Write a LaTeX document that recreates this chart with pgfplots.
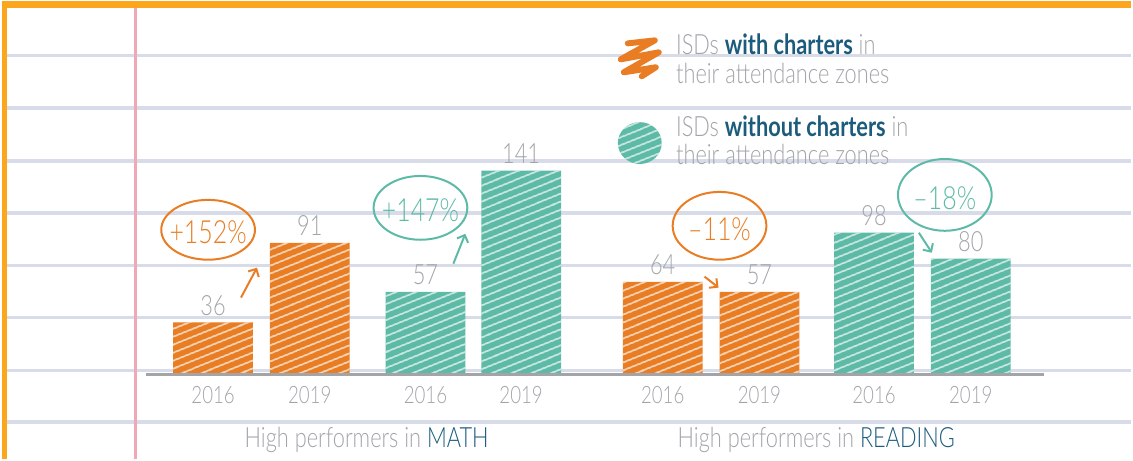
\documentclass[border=0pt]{standalone}
\usepackage{pgfplots}
\pgfplotsset{compat=1.18}
\usepackage{fontspec}
\setmainfont{Lato}[FakeStretch=0.78, UprightFont=* Light, BoldFont=* Bold]
\usetikzlibrary{patterns.meta,arrows.meta}

\definecolor{barorange}{HTML}{E87D24}
\definecolor{barteal}{HTML}{5DBAA6}
\definecolor{txtgray}{HTML}{A2A4A8}
\definecolor{txtblue}{HTML}{1B5B7C}
\definecolor{ruled}{HTML}{D8DCE9}
\definecolor{margin}{HTML}{F0A8B4}
\definecolor{frame}{HTML}{FBA61C}
\newcommand\fs[1]{\fontsize{#1}{#1}\selectfont}

\begin{document}
\begin{tikzpicture}
% notebook paper, in pixel units (origin top left)
\begin{scope}[x=0.5pt,y=-0.5pt,shift={(0pt,229.5pt)}]
  \path (0,0) rectangle (1133,459);
  \foreach \y in {54,107,160,212,265,317,370,422}
    \draw[ruled,line width=1.75pt] (0,\y) -- (1133,\y);
  \draw[margin,line width=1.5pt] (134.5,0) -- (134.5,459);
  \fill[frame] (0,0) rectangle (1133,7);
  \fill[frame] (0,0) rectangle (5,459);
\end{scope}

\begin{axis}[
    at={(0,0)}, anchor=south west,
    scale only axis, width=566.5pt, height=229.5pt,
    xmin=0, xmax=1133, ymin=-58.6, ymax=257.9,
    clip=false,
    axis line style={draw=none}, tick style={draw=none},
    ytick=\empty,
    xtick={212,309,425,521,663,760,875,972},
    xticklabels={2016,2019,2016,2019,2016,2019,2016,2019},
    xticklabel style={anchor=center, yshift=32pt, text=txtgray, font=\fs{12}},
    /pgf/number format/assume math mode=true,
    nodes near coords,
    every node near coord/.append style={text=txtgray, font=\fs{14}},
]
% ISDs with charters
\addplot[ybar, bar width=80, bar shift=0pt, fill=barorange, draw=none,
    postaction={pattern={Lines[angle=22,distance=4pt,line width=0.6pt]}, pattern color=white}]
    coordinates {(212,36) (309,91) (663,64) (760,57)};
% ISDs without charters
\addplot[ybar, bar width=80, bar shift=0pt, fill=barteal, draw=none,
    postaction={pattern={Lines[angle=22,distance=4pt,line width=0.6pt]}, pattern color=white}]
    coordinates {(425,57) (521,141) (875,98) (972,80)};
\end{axis}

\begin{scope}[x=0.5pt,y=-0.5pt,shift={(0pt,229.5pt)}]
  % base line
  \draw[txtgray,line width=1.4pt] (145,374) -- (1045,374);

  % change annotations
  \draw[barorange,line width=1pt] (207,229) ellipse [x radius=47, y radius=30];
  \node[text=barorange,font=\fs{16}] at (207,231) {+152\%};
  \draw[barorange,line width=1pt,-{Straight Barb[length=3pt]}] (240,297) -- (256,267);

  \draw[barteal,line width=1pt] (420,207) ellipse [x radius=47, y radius=32];
  \node[text=barteal,font=\fs{16}] at (420,209) {+147\%};
  \draw[barteal,line width=1pt,-{Straight Barb[length=3pt]}] (453,263) -- (465,233);

  \draw[barorange,line width=1pt] (720,225) ellipse [x radius=47, y radius=34];
  \node[text=barorange,font=\fs{16}] at (720,228) {--11\%};
  \draw[barorange,line width=1pt,-{Straight Barb[length=3pt]}] (705,276) -- (719,287);

  \draw[barteal,line width=1pt] (946,194) ellipse [x radius=47, y radius=36];
  \node[text=barteal,font=\fs{16}] at (946,197) {--18\%};
  \draw[barteal,line width=1pt,-{Straight Barb[length=3pt]}] (920,232) -- (933,252);

  % legend
  \draw[barorange,line width=3pt,line cap=round,line join=round]
    (628,42) -- (655,39) -- (621,58) -- (659,51) -- (624,71) -- (656,66) -- (642,75);
  \fill[barteal] (640,142) ellipse [x radius=22, y radius=21];
  \fill[pattern={Lines[angle=22,distance=4pt,line width=0.6pt]}, pattern color=white]
    (640,142) ellipse [x radius=22, y radius=21];
  \node[anchor=base west,inner sep=0pt,font=\fs{14},text=txtgray] at (676,53)
    {ISDs \textcolor{txtblue}{\bfseries with charters} in};
  \node[anchor=base west,inner sep=0pt,font=\fs{14},text=txtgray] at (676,82)
    {their attendance zones};
  \node[anchor=base west,inner sep=0pt,font=\fs{14},text=txtgray] at (676,135)
    {ISDs \textcolor{txtblue}{\bfseries without charters} in};
  \node[anchor=base west,inner sep=0pt,font=\fs{14},text=txtgray] at (676,164)
    {their attendance zones};

  % group labels
  \node[anchor=base,inner sep=0pt,font=\fs{14},text=txtgray] at (366,447)
    {High performers in \textcolor{txtblue}{MATH}};
  \node[anchor=base,inner sep=0pt,font=\fs{14},text=txtgray] at (817,447)
    {High performers in \textcolor{txtblue}{READING}};
\end{scope}
\end{tikzpicture}
\end{document}
